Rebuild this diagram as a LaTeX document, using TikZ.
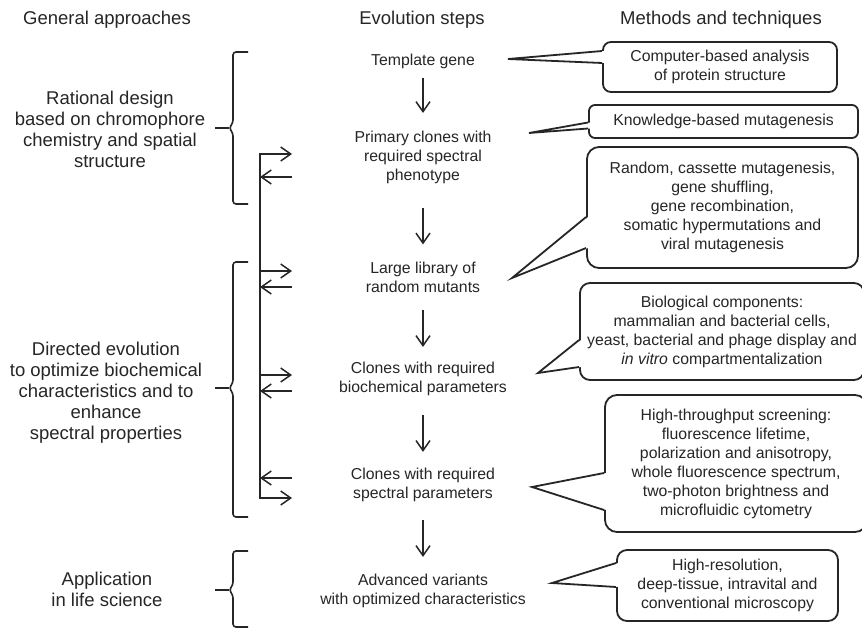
\documentclass[tikz,border=0pt]{standalone}
\usepackage{fontspec}
\setmainfont{Liberation Sans}
\usetikzlibrary{arrows.meta,calc}
\definecolor{ink}{HTML}{262626}
\newcommand\stepfont{\fontsize{15.8}{19}\selectfont}
\newcommand\groupfont{\fontsize{18.5}{21}\selectfont}

\begin{document}
\begin{tikzpicture}[
    x=1pt, y=-1pt,
    >={Straight Barb[length=10pt,width=14pt]},
    every node/.style={text=ink, inner sep=0pt, align=center},
    evostep/.style={font=\stepfont},
    approach/.style={font=\groupfont},
    method/.style={draw=ink, line width=1.8pt, rounded corners=10pt, font=\stepfont},
    pointer/.style={draw=ink, line width=1.8pt},
    flow/.style 2 args={->, draw=ink, line width=1.5pt, shorten <=#1, shorten >=#2},
    feed/.style={->, draw=ink, line width=1.5pt},
    bracket/.style={draw=ink, line width=1.6pt, rounded corners=3pt}
]

\useasboundingbox (0,0) rectangle (862,629);
\fill[white] (0,0) rectangle (862,629);

%======================
% Headers
%======================

\node[approach] (h1) at (107,20) {General approaches};
\node[approach] (h2) at (422,20) {Evolution steps};
\node[approach] (h3) at (721,20) {Methods and techniques};

%======================
% General approaches
%======================

\node[approach] (g1) at (110,129.5)
  {Rational design\\based on chromophore\\chemistry and spatial\\structure};
\node[approach] (g2) at (106,393)
  {Directed evolution\\to optimize biochemical\\characteristics and to\\enhance\\spectral properties};
\node[approach] (g3) at (107,589) {Application\\in life science};

% Brackets
\draw[bracket] (248,52) -- (233,52) -- (233,123) -- (229,128) -- (233,133) -- (233,204) -- (248,204);
\draw[bracket] (215,128) -- (229,128);

\draw[bracket] (248,262) -- (233,262) -- (233,383) -- (229,388) -- (233,393) -- (233,517) -- (248,517);
\draw[bracket] (215,388) -- (229,388);

\draw[bracket] (248,551) -- (233,551) -- (233,585) -- (229,590) -- (233,595) -- (233,627) -- (248,627);
\draw[bracket] (215,590) -- (229,590);

%======================
% Feedback line
%======================

\def\LX{260}
\def\AX{292}

\coordinate (fbtop) at (\LX,154);
\coordinate (fbbot) at (\LX,498);
\coordinate (fb1) at (\AX,154);
\coordinate (fb8) at (\AX,498);

\draw[feed, <->] (fb1) -- (fbtop) -- (fbbot) -- (fb8);

\draw[feed] (\AX,177) -- (\LX,177);
\draw[feed] (\LX,271) -- (\AX,271);
\draw[feed] (\AX,287) -- (\LX,287);
\draw[feed] (\LX,375) -- (\AX,375);
\draw[feed] (\AX,391) -- (\LX,391);
\draw[feed] (\AX,478) -- (\LX,478);

%======================
% Evolution steps
%======================

\node[evostep] (s1) at (423,61) {Template gene};
\node[evostep] (s2) at (423,157.5) {Primary clones with\\required spectral\\phenotype};
\node[evostep] (s3) at (423,277.5) {Large library of\\random mutants};
\node[evostep] (s4) at (423,379) {Clones with required\\biochemical parameters};
\node[evostep] (s5) at (423,484.5) {Clones with required\\spectral parameters};
\node[evostep] (s6) at (423,591) {Advanced variants\\with optimized characteristics};

\draw[flow={9.6pt}{18pt}] (s1) -- (s2);
\draw[flow={24pt}{17.6pt}] (s2) -- (s3);
\draw[flow={16.6pt}{15pt}] (s3) -- (s4);
\draw[flow={19pt}{15.6pt}] (s4) -- (s5);
\draw[flow={18.6pt}{17pt}] (s5) -- (s6);

%======================
% Methods and techniques
%======================

\node[method, rounded corners=8pt, minimum width=234pt, minimum height=50pt]
  (m1) at (720,67) {Computer-based analysis\\of protein structure};
\node[method, rounded corners=6pt, minimum width=269pt, minimum height=33pt]
  (m2) at (723.5,121.5) {Knowledge-based mutagenesis};
\node[method, rounded corners=12pt, minimum width=271pt, minimum height=121pt]
  (m3) at (722.5,207.5) {Random, cassette mutagenesis,\\gene shuffling,\\gene recombination,\\somatic hypermutations and\\viral mutagenesis};
\node[method, minimum width=284pt, minimum height=97pt]
  (m4) at (722,331.5) {Biological components:\\mammalian and bacterial cells,\\yeast, bacterial and phage display and\\\textit{in vitro} compartmentalization};
\node[method, rounded corners=12pt, minimum width=262pt, minimum height=137pt]
  (m5) at (736,463.5) {High-throughput screening:\\fluorescence lifetime,\\polarization and anisotropy,\\whole fluorescence spectrum,\\two-photon brightness and\\microfluidic cytometry};
\node[method, minimum width=221pt, minimum height=71pt]
  (m6) at (727.5,585.5) {High-resolution,\\deep-tissue, intravital and\\conventional microscopy};

% Pointer tips
\coordinate (t1) at (508,59);
\coordinate (t2) at (529,133);
\coordinate (t3) at (512,278);
\coordinate (t4) at (538,373);
\coordinate (t5) at (532,487);
\coordinate (t6) at (552,583);

% Pointers (white wedge over the box border, then its two sides)
\fill[white] ([xshift=2pt,yshift=16pt]m1.west) -- (t1) -- ([xshift=2pt,yshift=4pt]m1.west) -- cycle;
\draw[pointer] ([yshift=16pt]m1.west) -- (t1) -- ([yshift=4pt]m1.west);

\fill[white] ([xshift=2pt,yshift=-1pt]m2.west) -- (t2) -- ([xshift=2pt,yshift=-7pt]m2.west) -- cycle;
\draw[pointer] ([yshift=-1pt]m2.west) -- (t2) -- ([yshift=-7pt]m2.west);

\fill[white] ([xshift=2pt,yshift=-9.5pt]m3.west) -- (t3) -- ([xshift=2pt,yshift=-40.5pt]m3.west) -- cycle;
\draw[pointer] ([yshift=-9.5pt]m3.west) -- (t3) -- ([yshift=-40.5pt]m3.west);

\fill[white] ([xshift=2pt,yshift=-8.5pt]m4.west) -- (t4) -- ([xshift=2pt,yshift=-35.5pt]m4.west) -- cycle;
\draw[pointer] ([yshift=-8.5pt]m4.west) -- (t4) -- ([yshift=-35.5pt]m4.west);

\fill[white] ([xshift=2pt,yshift=-9.5pt]m5.west) -- (t5) -- ([xshift=2pt,yshift=-46.5pt]m5.west) -- cycle;
\draw[pointer] ([yshift=-9.5pt]m5.west) -- (t5) -- ([yshift=-46.5pt]m5.west);

\fill[white] ([xshift=2pt,yshift=22.5pt]m6.west) -- (t6) -- ([xshift=2pt,yshift=-1.5pt]m6.west) -- cycle;
\draw[pointer] ([yshift=22.5pt]m6.west) -- (t6) -- ([yshift=-1.5pt]m6.west);

\end{tikzpicture}
\end{document}
